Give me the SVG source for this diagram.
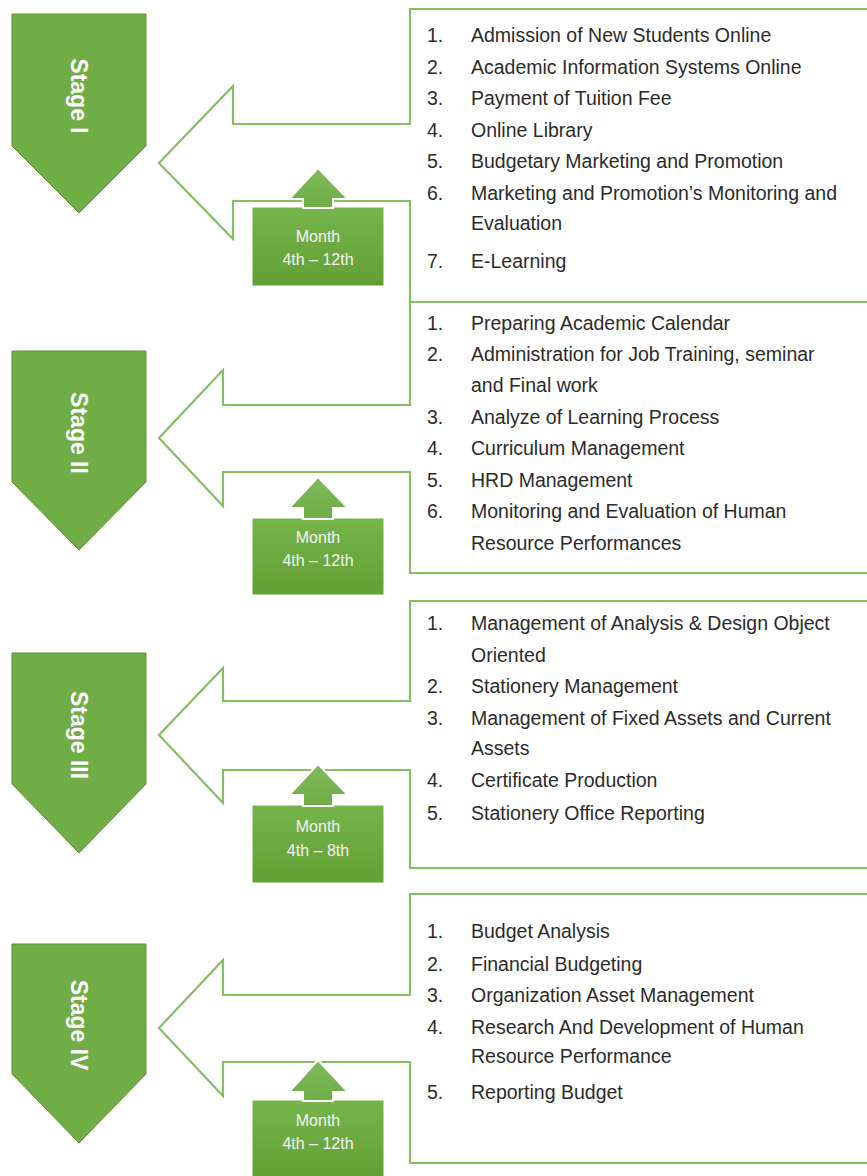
<svg xmlns="http://www.w3.org/2000/svg" width="867" height="1176" viewBox="0 0 867 1176">
<defs>
<linearGradient id="mg" x1="0" y1="0" x2="0" y2="1">
<stop offset="0" stop-color="#76b54c"/>
<stop offset="1" stop-color="#62a035"/>
</linearGradient>
<linearGradient id="ag" x1="0" y1="0" x2="0" y2="1">
<stop offset="0" stop-color="#80bb5c"/>
<stop offset="1" stop-color="#6fad46"/>
</linearGradient>
</defs>
<style>
.stage{fill:#70ad47;stroke:#5b9236;stroke-width:1}
.stxt{font-family:"Liberation Sans",Arial,sans-serif;font-weight:bold;font-size:23px;fill:#ffffff}
.call{fill:none;stroke:#86be63;stroke-width:2.2}
.mbox{fill:url(#mg);stroke:#ffffff;stroke-width:1}
.up{fill:url(#ag);stroke:#ffffff;stroke-width:2}
.mtxt{font-family:"Liberation Sans",Arial,sans-serif;font-size:16px;fill:#f4f4f4;text-anchor:middle}
.item{font-family:"Liberation Sans",Arial,sans-serif;font-size:19.5px;fill:#2b2b2b}
</style>

<g id="connectors">
<path class="call" d="M 870 9 H 410 V 124 H 233 V 86 L 159 163 L 233 239 V 201 H 410 V 302 H 870"/>
<path class="call" d="M 870 302 H 410 V 405 H 223 V 370 L 159 438 L 223 506 V 472 H 410 V 573 H 870"/>
<path class="call" d="M 870 601 H 410 V 701 H 223 V 668 L 159 735 L 223 803 V 770 H 410 V 868 H 870"/>
<path class="call" d="M 870 894 H 410 V 995 H 223 V 960 L 159 1028 L 223 1096 V 1062 H 410 V 1163 H 870"/>
</g>

<g id="stage1">
<polygon class="stage" points="12,14 146,14 146,146 79,213 12,146"/>
<text class="stxt" transform="translate(79,96) rotate(90)" text-anchor="middle" dominant-baseline="central">Stage I</text>
</g>
<g id="stage2">
<polygon class="stage" points="12,351 146,351 146,482 79,550 12,482"/>
<text class="stxt" transform="translate(79,433) rotate(90)" text-anchor="middle" dominant-baseline="central">Stage II</text>
</g>
<g id="stage3">
<polygon class="stage" points="12,653 146,653 146,784 79,853 12,784"/>
<text class="stxt" transform="translate(79,735) rotate(90)" text-anchor="middle" dominant-baseline="central">Stage III</text>
</g>
<g id="stage4">
<polygon class="stage" points="12,944 146,944 146,1074 79,1143 12,1074"/>
<text class="stxt" transform="translate(79,1025) rotate(90)" text-anchor="middle" dominant-baseline="central">Stage IV</text>
</g>

<g id="month1">
<rect class="mbox" x="252" y="207" width="132" height="79"/>
<polygon class="up" points="318,168 348,199 333,199 333,208 303,208 303,199 289,199"/>
<text class="mtxt" x="318" y="242">Month</text>
<text class="mtxt" x="318" y="265">4th – 12th</text>
</g>
<g id="month2">
<rect class="mbox" x="252" y="518" width="132" height="77"/>
<polygon class="up" points="318,477 348,508 333,508 333,519 303,519 303,508 289,508"/>
<text class="mtxt" x="318" y="543">Month</text>
<text class="mtxt" x="318" y="566">4th – 12th</text>
</g>
<g id="month3">
<rect class="mbox" x="252" y="805" width="132" height="78"/>
<polygon class="up" points="318,764 348,795 333,795 333,806 303,806 303,795 289,795"/>
<text class="mtxt" x="318" y="832">Month</text>
<text class="mtxt" x="318" y="856">4th – 8th</text>
</g>
<g id="month4">
<rect class="mbox" x="252" y="1100" width="132" height="78"/>
<polygon class="up" points="318,1060 348,1092 333,1092 333,1101 303,1101 303,1092 289,1092"/>
<text class="mtxt" x="318" y="1126">Month</text>
<text class="mtxt" x="318" y="1149">4th – 12th</text>
</g>

<g id="list1">
<text class="item" x="427" y="42">1.</text><text class="item" x="471" y="42">Admission of New Students Online</text>
<text class="item" x="427" y="74">2.</text><text class="item" x="471" y="74">Academic Information Systems Online</text>
<text class="item" x="427" y="105">3.</text><text class="item" x="471" y="105">Payment of Tuition Fee</text>
<text class="item" x="427" y="137">4.</text><text class="item" x="471" y="137">Online Library</text>
<text class="item" x="427" y="168">5.</text><text class="item" x="471" y="168">Budgetary Marketing and Promotion</text>
<text class="item" x="427" y="200">6.</text><text class="item" x="471" y="200">Marketing and Promotion’s Monitoring and</text>
<text class="item" x="471" y="230">Evaluation</text>
<text class="item" x="427" y="268">7.</text><text class="item" x="471" y="268">E-Learning</text>
</g>
<g id="list2">
<text class="item" x="427" y="330">1.</text><text class="item" x="471" y="330">Preparing Academic Calendar</text>
<text class="item" x="427" y="361">2.</text><text class="item" x="471" y="361">Administration for Job Training, seminar</text>
<text class="item" x="471" y="392">and Final work</text>
<text class="item" x="427" y="424">3.</text><text class="item" x="471" y="424">Analyze of Learning Process</text>
<text class="item" x="427" y="455">4.</text><text class="item" x="471" y="455">Curriculum Management</text>
<text class="item" x="427" y="487">5.</text><text class="item" x="471" y="487">HRD Management</text>
<text class="item" x="427" y="518">6.</text><text class="item" x="471" y="518">Monitoring and Evaluation of Human</text>
<text class="item" x="471" y="550">Resource Performances</text>
</g>
<g id="list3">
<text class="item" x="427" y="630">1.</text><text class="item" x="471" y="630">Management of Analysis &amp; Design Object</text>
<text class="item" x="471" y="662">Oriented</text>
<text class="item" x="427" y="693">2.</text><text class="item" x="471" y="693">Stationery Management</text>
<text class="item" x="427" y="725">3.</text><text class="item" x="471" y="725">Management of Fixed Assets and Current</text>
<text class="item" x="471" y="755">Assets</text>
<text class="item" x="427" y="787">4.</text><text class="item" x="471" y="787">Certificate Production</text>
<text class="item" x="427" y="820">5.</text><text class="item" x="471" y="820">Stationery Office Reporting</text>
</g>
<g id="list4">
<text class="item" x="427" y="938">1.</text><text class="item" x="471" y="938">Budget Analysis</text>
<text class="item" x="427" y="971">2.</text><text class="item" x="471" y="971">Financial Budgeting</text>
<text class="item" x="427" y="1002">3.</text><text class="item" x="471" y="1002">Organization Asset Management</text>
<text class="item" x="427" y="1034">4.</text><text class="item" x="471" y="1034">Research And Development of Human</text>
<text class="item" x="471" y="1063">Resource Performance</text>
<text class="item" x="427" y="1099">5.</text><text class="item" x="471" y="1099">Reporting Budget</text>
</g>
</svg>
